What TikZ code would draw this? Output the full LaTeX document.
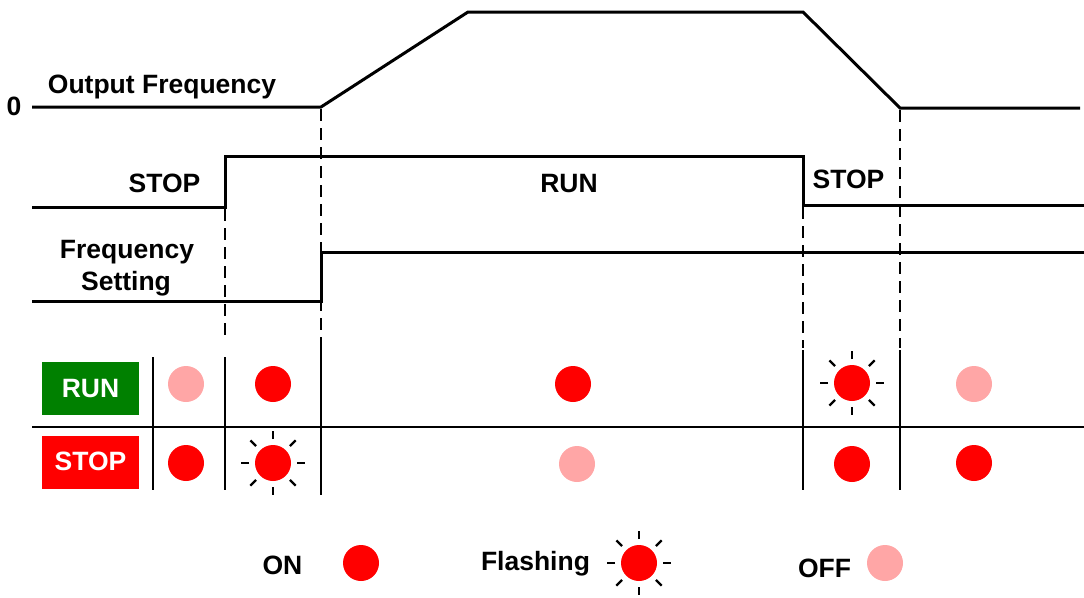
\documentclass[tikz,border=0pt]{standalone}
\usepackage{fontspec}
\setmainfont{Liberation Sans}
\usetikzlibrary{calc}
\definecolor{ledred}{RGB}{255,0,0}
\definecolor{ledoff}{RGB}{255,166,166}
\definecolor{rungreen}{RGB}{0,128,0}
\newcommand\flashrays[1]{%
  \foreach \a in {0,45,...,315}
    \draw[ray] ($(#1)+(\a:24pt)$) -- ($(#1)+(\a:32pt)$);}
\begin{document}
\begin{tikzpicture}[x=1pt,y=-1pt,
  wave/.style={line width=3pt,line join=miter},
  guide/.style={line width=2pt,dash pattern=on 12pt off 7pt},
  grid/.style={line width=2.2pt},
  ray/.style={line width=2.2pt},
  lbl/.style={font=\fontsize{26.5}{32}\selectfont\bfseries,inner sep=0pt,anchor=base},
  led/.style={circle,inner sep=0pt,minimum size=36pt,fill=#1},
  tag/.style={fill=#1,minimum width=97pt,minimum height=53pt,inner sep=0pt}]
\useasboundingbox (0,0) rectangle (1084,597);
% output frequency
\draw[wave] (32,107) -- (321,107) -- (468,12) -- (803,12) -- (900,108) -- (1080,108);
% run/stop command
\draw[wave] (32,207) -- (225,207) -- (225,156) -- (803,156) -- (803,205) -- (1084,205);
% frequency setting
\draw[wave] (32,301) -- (321,301) -- (321,252) -- (1084,252);
% dashed guides
\draw[guide] (225,209) -- (225,338);
\draw[guide] (321,109) -- (321,338);
\draw[guide] (803,207) -- (803,348);
\draw[guide] (900,110) -- (900,348);
% table grid
\draw[grid] (32,427) -- (1084,427);
\draw[grid] (153,357) -- (153,490);
\draw[grid] (225,357) -- (225,490);
\draw[grid] (321,338) -- (321,495);
\draw[grid] (803,350) -- (803,490);
\draw[grid] (900,350) -- (900,490);
% labels
\node[lbl] (zero) at (14,115) {0};
\node[lbl] (of) at (162,93) {Output Frequency};
\node[lbl] (stopA) at (164.5,192) {STOP};
\node[lbl] (run) at (569,192) {RUN};
\node[lbl] (stopB) at (848.5,188) {STOP};
\node[lbl] (fs1) at (127,258) {Frequency};
\node[lbl] (fs2) at (126,290) {Setting};
% tags
\node[tag=rungreen] (runtag) at (90.5,388.5) {};
\node[lbl,text=white] (runtxt) at (90.5,397) {RUN};
\node[tag=ledred] (stoptag) at (90.5,462.5) {};
\node[lbl,text=white] (stoptxt) at (90.5,470) {STOP};
% RUN row LEDs
\node[led=ledoff] (r1) at (186,384) {};
\node[led=ledred] (r2) at (273,384) {};
\node[led=ledred] (r3) at (573,384) {};
\node[led=ledred] (r4) at (852,383) {};
\flashrays{r4}
\node[led=ledoff] (r5) at (974,384) {};
% STOP row LEDs
\node[led=ledred] (s1) at (186,463) {};
\node[led=ledred] (s2) at (273,463) {};
\flashrays{s2}
\node[led=ledoff] (s3) at (577,464) {};
\node[led=ledred] (s4) at (852,464) {};
\node[led=ledred] (s5) at (974,463) {};
% legend
\node[lbl] (on) at (282.5,574) {ON};
\node[led=ledred] (lon) at (361,563) {};
\node[lbl] (fl) at (535.5,570) {Flashing};
\node[led=ledred] (lfl) at (639,563) {};
\flashrays{lfl}
\node[lbl] (off) at (824.5,577) {OFF};
\node[led=ledoff] (loff) at (885,563) {};
\end{tikzpicture}
\end{document}
